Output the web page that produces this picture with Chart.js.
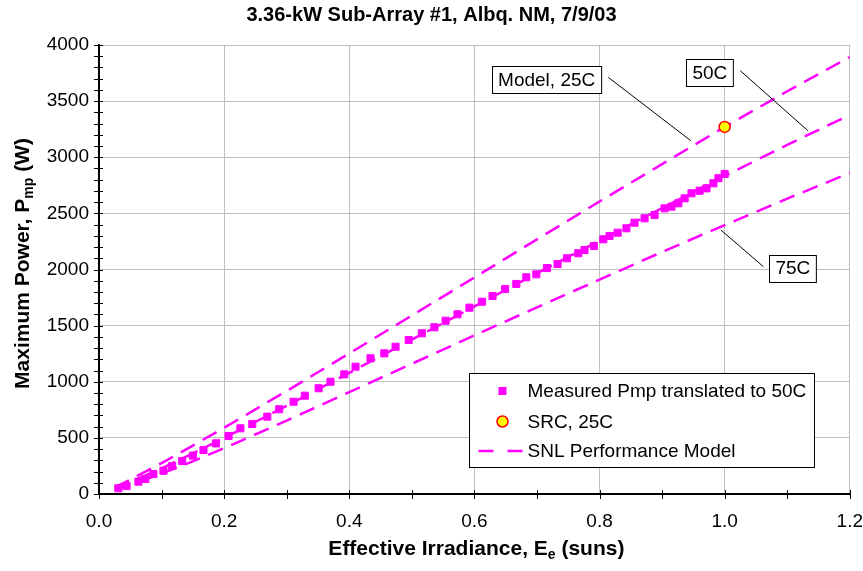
<!DOCTYPE html>
<html><head><meta charset="utf-8">
<script src="https://cdn.jsdelivr.net/npm/chart.js@4.4.1/dist/chart.umd.min.js"></script>
<style>html,body{margin:0;padding:0;background:#fff}</style>
</head><body>
<canvas id="c" width="863" height="571"></canvas>
<script>
// ---------- data ----------
const chartTitle = '3.36-kW Sub-Array #1, Albq. NM, 7/9/03';
const measuredE = [0.031,0.044,0.063,0.074,0.087,0.103,0.117,0.133,0.150,0.167,0.187,0.207,
  0.226,0.245,0.269,0.288,0.311,0.329,0.351,0.370,0.392,0.410,
  0.434,0.456,0.474,0.495,0.516,0.536,0.554,0.573,0.592,0.612,0.629,0.649,0.667,
  0.683,0.699,0.716,0.733,0.748,0.766,0.776,0.791,0.806,0.816,0.829,
  0.843,0.856,0.872,0.888,0.904,0.915,0.926,0.936,0.947,0.960,0.971,0.982,0.990,1.000];
const measuredP = [51,71,110,134,178,207,249,294,342,392,451,517,
  585,624,689,755,822,876,942,1000,1066,1134,
  1209,1253,1312,1372,1432,1485,1544,1601,1660,1713,1764,1826,1871,
  1931,1957,2013,2049,2100,2145,2174,2209,2269,2299,2328,
  2367,2417,2456,2485,2545,2560,2590,2634,2679,2702,2723,2768,2813,2851];
const modelE   = [0.025,0.05,0.1,0.15,0.2,0.3,0.4,0.5,0.6,0.7,0.8,0.9,1.0,1.1,1.2];
const model25C = [58,128,275,431,590,918,1252,1590,1929,2268,2606,2939,3270,3588,3893];
const model50C = [47,104,229,361,499,786,1080,1375,1671,1966,2258,2548,2833,3110,3377];
const model75C = [35,80,182,291,408,654,908,1160,1413,1663,1910,2156,2396,2631,2860];
const srcE = [1.0];
const srcP = [3270];
const xTickLabels = ['0.0','0.2','0.4','0.6','0.8','1.0','1.2'];
const yTickLabels = ['0','500','1000','1500','2000','2500','3000','3500','4000'];
const legendLabels = ['Measured Pmp translated to 50C','SRC, 25C','SNL Performance Model'];
const calloutLabels = ['Model, 25C','50C','75C'];

// ---------- styling ----------
const FONT = 'Arial, "Liberation Sans", Helvetica, sans-serif';
const MAG = '#ff00ff';
const pts = (xs, ys) => xs.map((v, i) => ({x: v, y: ys[i]}));

const lineDs = (label, ys) => ({
  label, data: pts(modelE, ys), showLine: true, borderColor: MAG, borderWidth: 2.5,
  borderDash: [16, 9], pointRadius: 0, fill: false, order: 5
});

// callouts anchored in data coordinates (box centre, leader start, leader end)
const callouts = [
  {text: calloutLabels[0], bx: 0.7155, by: 3693, l: [0.814, 3712, 0.946, 3147]},
  {text: calloutLabels[1], bx: 0.9764, by: 3755, l: [1.025, 3771, 1.133, 3237]},
  {text: calloutLabels[2], bx: 1.109,  by: 2013, l: [0.994, 2352, 1.062, 2025]}
];

function measureParts(ctx, parts, size, weight) {
  let w = 0;
  for (const p of parts) {
    ctx.font = `${weight} ${p.sub ? Math.round(size * 0.65) : size}px ${FONT}`;
    w += ctx.measureText(p.t).width;
  }
  return w;
}
function renderParts(ctx, parts, size, weight, cx, cy) {
  const w = measureParts(ctx, parts, size, weight);
  let x = cx - w / 2;
  ctx.textBaseline = 'middle';
  ctx.textAlign = 'left';
  for (const p of parts) {
    ctx.font = `${weight} ${p.sub ? Math.round(size * 0.65) : size}px ${FONT}`;
    ctx.fillText(p.t, x, p.sub ? cy + size * 0.3 : cy);
    x += ctx.measureText(p.t).width;
  }
}

const decor = {
  id: 'decor',
  afterDraw(chart) {
    const {ctx, chartArea: a, scales: {x, y}} = chart;
    ctx.save();
    // tick marks crossing the axes
    ctx.strokeStyle = '#000';
    ctx.lineWidth = 1;
    ctx.setLineDash([]);
    for (let v = 0; v <= 4000; v += 100) {
      const py = Math.round(y.getPixelForValue(v)) + 0.5;
      ctx.beginPath(); ctx.moveTo(a.left - 5, py); ctx.lineTo(a.left + 4, py); ctx.stroke();
    }
    for (let k = 0; k <= 12; k++) {
      const px = Math.round(x.getPixelForValue(k / 10)) + 0.5;
      ctx.beginPath(); ctx.moveTo(px, a.bottom - 4); ctx.lineTo(px, a.bottom + 5); ctx.stroke();
    }

    // axis titles
    ctx.fillStyle = '#000';
    renderParts(ctx, [{t: 'Effective Irradiance, E'}, {t: 'e', sub: true}, {t: ' (suns)'}],
      21, 'bold', (a.left + a.right) / 2 + 2, 549);
    ctx.save();
    ctx.translate(23, (a.top + a.bottom) / 2 - 6);
    ctx.rotate(-Math.PI / 2);
    renderParts(ctx, [{t: 'Maximum Power, P'}, {t: 'mp', sub: true}, {t: ' (W)'}], 21, 'bold', 0, 0);
    ctx.restore();

    // callouts
    ctx.font = `19px ${FONT}`;
    for (const c of callouts) {
      ctx.strokeStyle = '#000'; ctx.lineWidth = 1;
      ctx.beginPath();
      ctx.moveTo(x.getPixelForValue(c.l[0]), y.getPixelForValue(c.l[1]));
      ctx.lineTo(x.getPixelForValue(c.l[2]), y.getPixelForValue(c.l[3]));
      ctx.stroke();
      const cx = x.getPixelForValue(c.bx), cy = y.getPixelForValue(c.by);
      const w = ctx.measureText(c.text).width + 12, h = 27;
      const bx = Math.round(cx - w / 2) + 0.5, by = Math.round(cy - h / 2) + 0.5;
      ctx.fillStyle = '#fff'; ctx.fillRect(bx, by, w, h);
      ctx.strokeRect(bx, by, w, h);
      ctx.fillStyle = '#000'; ctx.textAlign = 'center'; ctx.textBaseline = 'middle';
      ctx.fillText(c.text, cx, cy + 1);
    }

    // legend
    const L = a.left + 370.5, T = a.top + 328.5, W = 345, H = 94;
    ctx.fillStyle = '#fff'; ctx.fillRect(L, T, W, H);
    ctx.strokeStyle = '#000'; ctx.lineWidth = 1; ctx.strokeRect(L, T, W, H);
    const rows = [T + 17.5, T + 48, T + 77.5];
    ctx.fillStyle = MAG;
    ctx.fillRect(L + 29, rows[0] - 4, 8, 8);
    ctx.beginPath(); ctx.arc(L + 33, rows[1], 5.5, 0, Math.PI * 2);
    ctx.fillStyle = '#ffff00'; ctx.fill();
    ctx.strokeStyle = '#ff0000'; ctx.lineWidth = 1.5; ctx.stroke();
    ctx.strokeStyle = MAG; ctx.lineWidth = 2.5; ctx.setLineDash([15, 14]);
    ctx.beginPath(); ctx.moveTo(L + 9, rows[2]); ctx.lineTo(L + 54, rows[2]); ctx.stroke();
    ctx.setLineDash([]);
    ctx.fillStyle = '#000'; ctx.font = `19px ${FONT}`;
    ctx.textAlign = 'left'; ctx.textBaseline = 'middle';
    legendLabels.forEach((t, i) => ctx.fillText(t, L + 58, rows[i] + 1));
    ctx.restore();
  }
};

new Chart(document.getElementById('c'), {
  type: 'scatter',
  data: {
    datasets: [
      {label: 'SRC, 25C', data: pts(srcE, srcP), pointStyle: 'circle', pointRadius: 5.5,
       backgroundColor: '#ffff00', borderColor: '#ff0000', borderWidth: 1.5, order: 1},
      {label: 'Measured Pmp translated to 50C', data: pts(measuredE, measuredP), pointStyle: 'rect',
       pointRadius: 5, backgroundColor: MAG, borderColor: MAG, borderWidth: 1, order: 2},
      lineDs('Model, 25C', model25C),
      lineDs('Model, 50C', model50C),
      lineDs('Model, 75C', model75C)
    ]
  },
  options: {
    responsive: false, animation: false, devicePixelRatio: 1,
    layout: {padding: {left: 0, right: 0, top: 0, bottom: 0}},
    plugins: {
      legend: {display: false}, tooltip: {enabled: false},
      title: {display: true, text: chartTitle, color: '#000',
        font: {family: FONT, size: 20, weight: 'bold'}, padding: {top: 3, bottom: 18}}
    },
    scales: {
      x: {type: 'linear', min: 0, max: 1.2,
        afterFit(s) { s.height = 77; },
        afterBuildTicks(s) { s.ticks = xTickLabels.map(t => ({value: parseFloat(t)})); },
        ticks: {callback: (v, i) => xTickLabels[i], color: '#000', padding: 0, maxRotation: 0, autoSkip: false,
          font: {family: FONT, size: 19}},
        grid: {color: '#c0c0c0', lineWidth: 1, drawTicks: true, tickLength: 16, tickColor: 'rgba(0,0,0,0)'},
        border: {display: true, color: '#000', width: 2}},
      y: {type: 'linear', min: 0, max: 4000,
        afterFit(s) { s.width = 99; },
        afterBuildTicks(s) { s.ticks = yTickLabels.map(t => ({value: parseFloat(t)})); },
        ticks: {callback: (v, i) => yTickLabels[i], color: '#000', padding: 0, autoSkip: false,
          font: {family: FONT, size: 19}},
        grid: {color: '#c0c0c0', lineWidth: 1, drawTicks: true, tickLength: 10, tickColor: 'rgba(0,0,0,0)'},
        border: {display: true, color: '#000', width: 2}}
    }
  },
  plugins: [decor]
});
</script>
</body></html>
